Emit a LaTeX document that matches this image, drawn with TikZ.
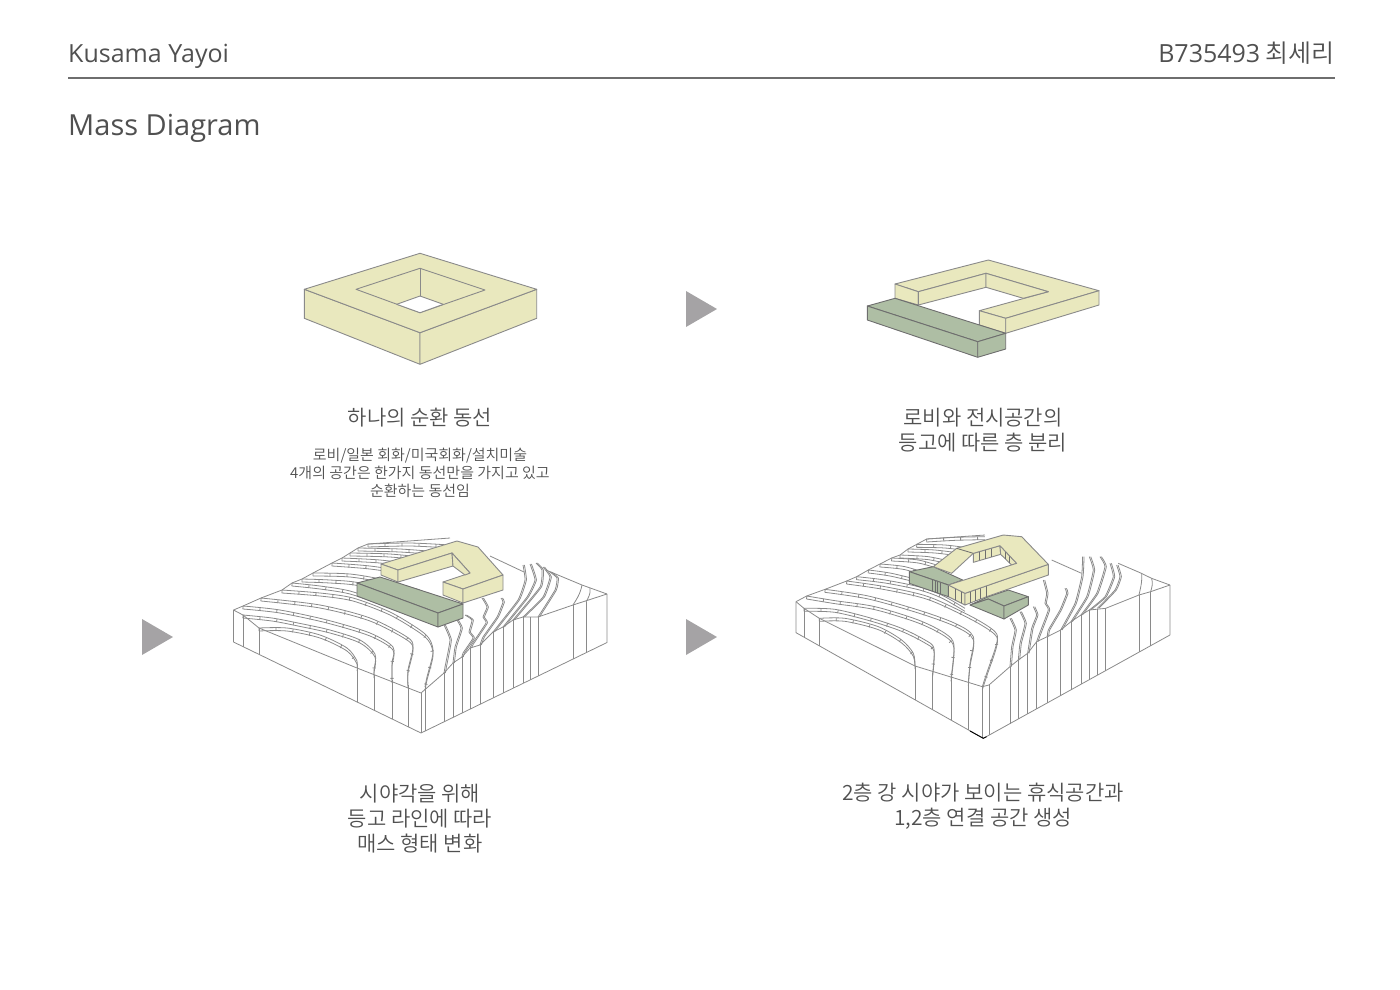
\documentclass[tikz,border=0pt]{standalone}
\usepackage{fontspec}
\setmainfont{Noto Sans CJK KR}[UprightFont=* DemiLight]
\newfontfamily\latinfont{Open Sans}
\usetikzlibrary{decorations.pathreplacing}
\definecolor{massy}{HTML}{E9E8BE}
\definecolor{massg}{HTML}{AEBEA4}
\definecolor{edgegray}{HTML}{8A8A8A}
\definecolor{rulegray}{HTML}{6E6E6E}
\definecolor{inkgray}{HTML}{505050}
\definecolor{markgray}{HTML}{A5A3A5}
\tikzset{
  massyellow/.style={draw=edgegray,fill=massy,line width=0.9pt,line join=round},
  massgreen/.style={draw=edgegray!80!black,fill=massg,line width=0.9pt,line join=round},
  mullion/.style={draw=edgegray!80!black,line width=0.8pt},
  terrain/.style={draw=edgegray,line width=0.8pt,line join=round},
  terraintick/.style={terrain,decorate,decoration={ticks,segment length=17pt,amplitude=1.6pt}},
  headtext/.style={anchor=base west,inner sep=0pt,text=inkgray},
  captiontext/.style={align=center,inner sep=0pt,text=inkgray,font=\fontsize{21}{25}\selectfont},
  smalltext/.style={align=center,inner sep=0pt,text=inkgray,font=\fontsize{15}{18.3}\selectfont},
  playmark/.style={fill=markgray,draw=none}
}
\newcommand{\bandline}[1]{%
  \draw[terrain] plot[smooth] coordinates {#1};
  \draw[terrain,yshift=-3pt] plot[smooth] coordinates {#1};
  \draw[terraintick,yshift=-1.5pt] plot coordinates {#1};
}
\newcommand{\wavyline}[1]{%
  \draw[terrain] plot[smooth,tension=0.25] coordinates {#1};
  \draw[terrain,xshift=1.4pt] plot[smooth,tension=0.25] coordinates {#1};
}
\begin{document}
\begin{tikzpicture}[x=1pt,y=-1pt]
\useasboundingbox (0,0) rectangle (1400,989);
% header
\node[headtext,font=\fontsize{25}{30}\latinfont] (title) at (68,62) {Kusama Yayoi};
\node[headtext,anchor=base east,font=\fontsize{25}{30}\selectfont] (student) at (1335,62) {{\latinfont B735493} 최세리};
\draw[draw=rulegray,line width=2pt] (68,77.5) -- (1335,77.5);
\node[headtext,font=\fontsize{29}{34}\latinfont] (heading) at (68,135) {Mass Diagram};
% arrows
\draw[playmark] (686,291) -- (717,309) -- (686,327) -- cycle;
\draw[playmark] (142,619) -- (173,637) -- (142,655) -- cycle;
\draw[playmark] (686,619) -- (717,637) -- (686,655) -- cycle;
% mass 1
\draw[massyellow] (304.3,289.3) -- (420,332.7) -- (420,364.3) -- (304.3,318.3) -- cycle;
\draw[massyellow] (420,332.7) -- (536.7,289.3) -- (536.7,318.3) -- (420,364.3) -- cycle;
\draw[massyellow] (420,253.3) -- (536.7,289.3) -- (420,332.7) -- (304.3,289.3) -- cycle;
\draw[massyellow] (420,268.3) -- (485,290) -- (420,312.7) -- (356,289.3) -- cycle;
\fill[white] (396.7,304.3) -- (420,296) -- (443.3,304.3) -- (420,312.7) -- cycle;
\draw[terrain,line width=0.9pt] (396.7,304.3) -- (420,296) -- (443.3,304.3);
\draw[terrain,line width=0.9pt] (420,268.3) -- (420,296);
\draw[terrain,line width=0.9pt] (396.7,304.3) -- (420,312.7) -- (443.3,304.3);
% mass 2
\draw[massyellow] (895,284) -- (988.3,260) -- (1099,290.7) -- (1005.7,318.3) -- (979.3,310.7) -- (1048.3,291.7) -- (986,273.3) -- (918.3,291.7) -- cycle;
\draw[massyellow] (895,284) -- (918.3,291.7) -- (918.3,305) -- (895,298.3) -- cycle;
\draw[massyellow] (918.3,291.7) -- (986,273.3) -- (986,287.3) -- (918.3,305) -- cycle;
\draw[massyellow] (986,273.3) -- (1048.3,291.7) -- (1023.3,298.3) -- (986,287.3) -- cycle;
\draw[massyellow] (979.3,310.7) -- (1005.7,318.3) -- (1005.7,333.3) -- (979.3,325) -- cycle;
\draw[massyellow] (1005.7,318.3) -- (1099,290.7) -- (1099,305) -- (1005.7,333.3) -- cycle;
\draw[massgreen] (867.3,306) -- (895,298.3) -- (1005.7,333.3) -- (977.7,341.7) -- cycle;
\draw[massgreen] (867.3,306) -- (977.7,341.7) -- (977.7,357.3) -- (867.3,320) -- cycle;
\draw[massgreen] (977.7,341.7) -- (1005.7,333.3) -- (1005.7,349) -- (977.7,357.3) -- cycle;
% terrain 3
\draw[terrain] (233.5,610) -- (233.5,642) -- (421,733) -- (607,642.5) -- (607,594);
\draw[terrain] (233.5,610) -- (243,606) -- (261,598) -- (282,590) -- (292,583) -- (302,579) -- (313,573) -- (332,563) -- (342,558) -- (350,553) -- (358,548) -- (368,544) -- (450,538);
\draw[terrain] (233.5,610) -- (243,615) -- (259,628) -- (357,668) -- (421,693) -- (444,673) -- (453,663) -- (462,657) -- (470,648) -- (480,645) -- (493,632) -- (503,627) -- (513,620) -- (523,617) -- (538,617) -- (573,605) -- (607,594);
\draw[terrain] (490,556) -- (524,572);
\draw[terrain] (546,570) -- (582,585) -- (607,594);
\foreach \xa/\ya/\yb in {243/615/646.5,259/628/654.5,357/668/702,374/675/710,392/680/719,408/685/727,421/693/733,425/687/731,444/673/722,453/663/717,462/657/713,470/648/709,480/645/704,493/632/698,503/627/693,513/620/688,523/617/683,530/617/680,538/617/676,573/605/659,586/602/653}
  \draw[terrain] (\xa,\ya) -- (\xa,\yb);
\bandline{(259,628) (287,628) (320,635) (347,648) (357,661) (357,668)}
\bandline{(243,615) (272,618) (298,623) (330,630) (360,640) (375,654) (374,670) (374,675)}
\bandline{(243,606) (280,610) (327,620) (370,633) (393,647) (392,663) (392,680)}
\bandline{(261,598) (320,605) (370,618) (407,637) (413,647) (408,670) (408,685)}
\bandline{(282,590) (320,593) (353,598) (390,612) (420,630) (430,640) (433,653) (427,677) (425,687)}
\bandline{(292,583) (320,586) (350,591) (385,603)}
\bandline{(302,579) (330,580) (360,583) (400,596)}
\bandline{(313,573) (350,574) (385,580) (420,590)}
\bandline{(332,563) (370,566) (410,572)}
\bandline{(342,558) (380,560) (420,565)}
\bandline{(350,553) (390,554) (430,558)}
\bandline{(358,548) (400,549) (440,552)}
\bandline{(368,544) (410,543) (450,545)}
\wavyline{(444,625) (450,640) (445,667) (444,673)}
\wavyline{(455,617) (461,628) (455,647) (453,663)}
\wavyline{(465,615) (472,620) (469,632) (473,638) (463,653) (462,657)}
\wavyline{(482,598) (487,607) (483,617) (486,623) (472,644) (470,648)}
\wavyline{(501,598) (503,602) (497,617) (483,637) (480,645)}
\wavyline{(523,565) (525,580) (518,600) (493,632)}
\wavyline{(530,564) (535,580) (527,597) (503,627)}
\wavyline{(536,563) (542,570) (540,587) (513,620)}
\wavyline{(543,567) (550,577) (543,597) (523,617)}
\wavyline{(550,572) (557,578) (555,590) (538,617)}
\draw[terrain] (582,585) .. controls (580,595) and (576,600) .. (573,605);
\draw[terrain] (590,588) .. controls (591,594) and (588,598) .. (586,602);
% mass 3
\draw[massyellow] (381,564) -- (457,541) -- (478,547) -- (503,575) -- (463,589) -- (443,582) -- (470,573) -- (452,553) -- (398,570) -- cycle;
\draw[massyellow] (381,564) -- (398,570) -- (398,582) -- (381,575) -- cycle;
\draw[massyellow] (398,570) -- (452,553) -- (453,566) -- (398,582) -- cycle;
\draw[massyellow] (452,553) -- (470,573) -- (465,575) -- (453,566) -- cycle;
\draw[massyellow] (443,582) -- (463,589) -- (463,603) -- (443,595) -- cycle;
\draw[massyellow] (463,589) -- (503,575) -- (503,590) -- (463,603) -- cycle;
\draw[massgreen] (357,583) -- (380,577) -- (463,604) -- (438,613) -- cycle;
\draw[massgreen] (357,583) -- (438,613) -- (438,627) -- (357,596) -- cycle;
\draw[massgreen] (438,613) -- (463,604) -- (463,618) -- (438,627) -- cycle;
% terrain 4
\begin{scope}[shift={(785,560)},x=0.3333pt,y=-0.3333pt]
\draw[terrain] (33,125) -- (33,218) -- (595,535) -- (1155,225) -- (1155,75);
\draw[terrain] (33,125) -- (65,108) -- (120,88) -- (185,63) -- (215,50) -- (250,30) -- (285,12) -- (320,-6) -- (345,-15) -- (369,-33) -- (395,-47) -- (425,-63) -- (600,-75);
\draw[terrain] (33,125) -- (57,145) -- (103,175) -- (390,318) -- (592,380) -- (612,375) -- (675,320) -- (700,300) -- (728,280) -- (755,245) -- (787,230) -- (827,210) -- (858,185) -- (888,165) -- (913,150) -- (962,145) -- (1062,105) -- (1097,95) -- (1155,75);
\draw[terrain] (800,0) -- (890,40);
\draw[terrain] (1000,10) -- (1065,38) -- (1100,55) -- (1155,75);
\foreach \xa/\ya/\yb in {57/145/231.5,103/175/257.5,390/318/419,443/340/449,498/355/480,550/368/510,592/380/533,612/375/526,675/320/491,700/300/477,728/280/461,755/245/446,787/230/429,827/210/407,858/185/389,888/165/373,913/150/359,937/147/346,962/145/332,1062/105/276,1097/95/257}
  \draw[terrain] (\xa,\ya) -- (\xa,\yb);
\draw[draw=black,line width=0.9pt] (555,513) -- (595,535) -- (605,530);
\bandline{(103,175) (180,175) (280,200) (350,240) (385,280) (390,318)}
\bandline{(57,145) (150,148) (260,175) (350,205) (420,240) (447,265) (443,340)}
\bandline{(65,108) (150,122) (270,140) (400,180) (480,220) (507,255) (498,355)}
\bandline{(120,88) (250,108) (400,150) (510,190) (565,230) (555,310) (550,368)}
\bandline{(185,63) (300,80) (430,110) (560,170) (630,215) (635,250) (605,340) (592,380)}
\bandline{(215,50) (300,60) (400,80) (470,105) (540,145)}
\bandline{(250,30) (320,40) (420,65) (480,85)}
\bandline{(285,12) (360,20) (440,45)}
\bandline{(320,-6) (400,0) (470,20)}
\bandline{(345,-15) (430,-10) (500,5)}
\bandline{(369,-33) (450,-30) (530,-20)}
\bandline{(395,-47) (480,-45) (560,-35)}
\bandline{(425,-63) (510,-68) (600,-70)}
\wavyline{(675,175) (690,210) (680,260) (675,320)}
\wavyline{(705,155) (720,190) (705,250) (700,300)}
\wavyline{(745,140) (755,165) (740,205) (728,280)}
\wavyline{(775,60) (785,100) (780,130) (790,150) (760,230) (755,245)}
\wavyline{(840,85) (845,100) (825,150) (790,210) (787,230)}
\wavyline{(893,-10) (890,50) (870,130) (827,210)}
\wavyline{(913,-10) (925,30) (905,110) (858,185)}
\wavyline{(945,-10) (960,20) (935,100) (888,165)}
\wavyline{(975,10) (985,50) (960,110) (913,150)}
\wavyline{(995,15) (1005,50) (990,90) (937,145)}
\draw[terrain] (1070,40) .. controls (1072,70) and (1065,90) .. (1062,105);
\draw[terrain] (1100,55) .. controls (1105,70) and (1100,85) .. (1097,95);
\end{scope}
% mass 4
\begin{scope}[shift={(880,525)},x=0.3333pt,y=-0.3333pt]
\draw[massgreen] (270,240) -- (325,215) -- (385,195) -- (445,215) -- (372,243) -- (325,222) -- cycle;
\draw[massgreen] (270,240) -- (325,222) -- (372,243) -- (372,282) -- cycle;
\draw[massgreen] (372,243) -- (445,215) -- (445,240) -- (372,282) -- cycle;
\draw[massyellow] (280,85) -- (360,62) -- (362,88) -- (280,112) -- cycle;
\draw[massyellow] (360,62) -- (410,115) -- (395,120) -- (362,88) -- cycle;
\foreach \xa/\ya/\yb in {298/80/106,315/75/101,335/69/95,375/78/103,388/92/115}
  \draw[mullion] (\xa,\ya) -- (\xa,\yb);
\draw[massyellow] (205,180) -- (255,205) -- (255,240) -- (205,215) -- cycle;
\draw[massyellow] (255,205) -- (505,118) -- (505,150) -- (320,215) -- (255,240) -- cycle;
\foreach \xa/\ya/\yb in {225/190/225,245/200/235,270/200/234,285/195/229,300/190/223,320/184/215}
  \draw[mullion] (\xa,\ya) -- (\xa,\yb);
\draw[massgreen] (88,140) -- (160,125) -- (248,165) -- (205,180) -- cycle;
\draw[massgreen] (88,140) -- (205,180) -- (205,215) -- (88,175) -- cycle;
\foreach \xa/\ya/\yb in {157/164/198,165/167/201,173/170/204,182/173/207}
  \draw[mullion] (\xa,\ya) -- (\xa,\yb);
\draw[massyellow] (160,125) -- (230,70) -- (370,30) -- (425,35) -- (505,118) -- (255,205) -- (205,180) -- (410,115) -- (360,62) -- (280,85) -- (215,145) -- cycle;
\draw[mullion] (230,70) -- (280,85);
\end{scope}
% captions
\node[captiontext] (cap1) at (420,418) {하나의 순환 동선};
\node[smalltext] (note1) at (420,473) {로비/일본 회화/미국회화/설치미술\\4개의 공간은 한가지 동선만을 가지고 있고\\순환하는 동선임};
\node[captiontext] (cap2) at (983,430.5) {로비와 전시공간의\\등고에 따른 층 분리};
\node[captiontext] (cap3) at (420,819) {시야각을 위해\\등고 라인에 따라\\매스 형태 변화};
\node[captiontext] (cap4) at (983,806.5) {2층 강 시야가 보이는 휴식공간과\\1,2층 연결 공간 생성};
\end{tikzpicture}
\end{document}
